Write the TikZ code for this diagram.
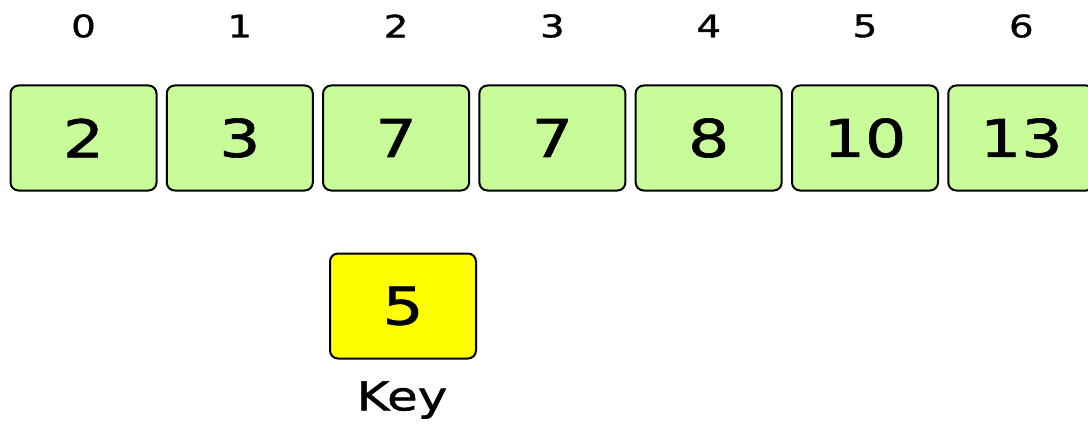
\documentclass[tikz,border=0pt]{standalone}
\usepackage{fontspec}
\newfontfamily\widesans[FakeStretch=1.25, FakeBold=1.2]{DejaVu Sans}
\usetikzlibrary{positioning}

\definecolor{cellgreen}{HTML}{C8FC98}
\definecolor{keyyellow}{HTML}{FFFF00}

\tikzset{
    cell/.style={draw=black, line width=2pt, rounded corners=8pt, fill=cellgreen,
        minimum width=146pt, minimum height=105pt, inner sep=0pt,
        font=\widesans\fontsize{52}{52}\selectfont},
    keycell/.style={cell, fill=keyyellow},
    idx/.style={font=\widesans\fontsize{31}{31}\selectfont, inner sep=0pt},
    keylabel/.style={font=\widesans\fontsize{40}{40}\selectfont, inner sep=0pt}
}

\begin{document}
\begin{tikzpicture}[x=1pt, y=-1pt]
    \useasboundingbox (0,0) rectangle (1088,428);
    % --- 数组单元及下标 ---
    \foreach \v [count=\i from 0] in {2,3,7,7,8,10,13} {
        \node[cell] (c\i) at ({83.5+156.3*\i}, 138) {\v};
        \node[idx] (i\i) at ({83.5+156.3*\i}, 26) {\i};
    }
    % --- 待插入的关键字 ---
    \node[keycell] (key) at (403, 306) {5};
    \node[keylabel] (keyname) at (402, 400) {Key};
\end{tikzpicture}
\end{document}
